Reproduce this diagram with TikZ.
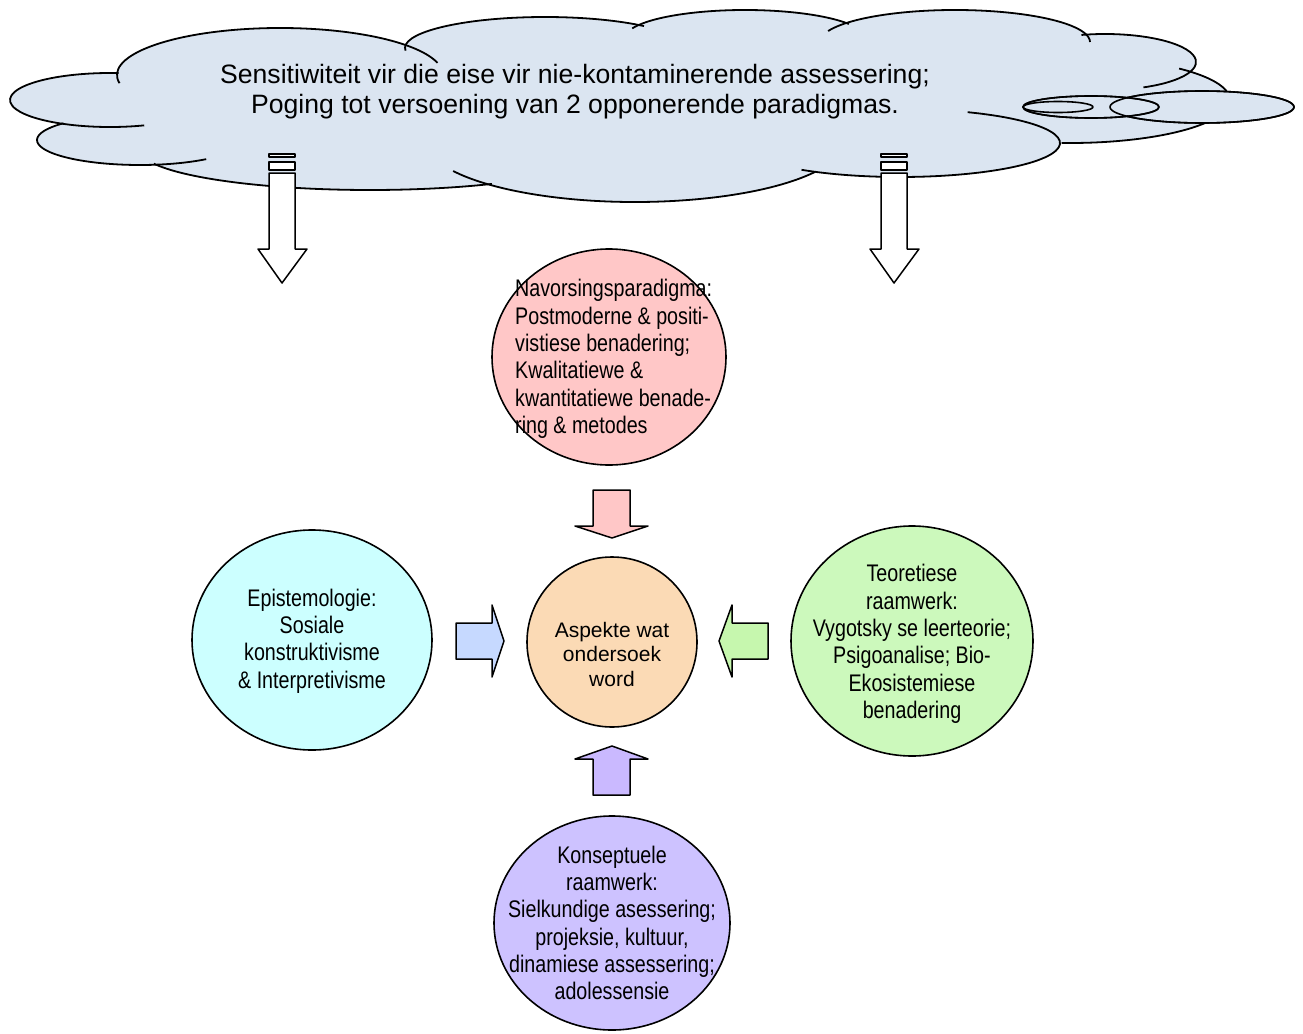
\documentclass[tikz,border=0pt]{standalone}
\usepackage{fontspec}
\setmainfont{Liberation Sans}
\newfontfamily\narrowsans[FakeStretch=0.82]{Liberation Sans}
\usetikzlibrary{shapes.geometric}
\begin{document}
\begin{tikzpicture}[x=1pt,y=-1pt,line join=round]
\definecolor{cloudfill}{HTML}{DBE5F1}
\definecolor{pinkfill}{HTML}{FFC7C7}
\definecolor{peachfill}{HTML}{FBDAB5}
\definecolor{cyanfill}{HTML}{CCFFFF}
\definecolor{greenfill}{HTML}{CCF9BC}
\definecolor{purplefill}{HTML}{CDC2FF}
\definecolor{bluearrow}{HTML}{C6D9FF}
\definecolor{greenarrow}{HTML}{C6F7AE}
\definecolor{purplearrow}{HTML}{CAB9FF}
\tikzset{
  outline/.style={draw=black,line width=1.6pt},
  bubble/.style={ellipse,outline,inner sep=0pt},
  circtext/.style={font=\narrowsans\fontsize{24}{27.3}\selectfont,align=center,inner sep=0pt},
  midtext/.style={font=\fontsize{21}{24.5}\selectfont,align=center,inner sep=0pt},
  blockarrow/.style={draw=black,line width=1.5pt},
}
\useasboundingbox (0,0) rectangle (1303,1033);

% ---- cloud: lobes given as centre x / centre y / x radius / y radius / start / end angle
\def\lobes{110/100/100/27/70/275, 280/75/163/47/170/345, 545/48/140/31/175/315,
  745/38/120/28/200/330, 955/42/135/32/200/360, 1105/62/91/28/255/425,
  1070/100/160/43/313/453, 900/143/160/34/295/488, 635/140/210/62/31/150,
  370/150/230/40/58/160, 140/140/103/25/50/222}
\fill[cloudfill] ({110+100*cos(70)},{100+27*sin(70)})
  \foreach \cx/\cy/\rx/\ry/\a/\b in \lobes {
    -- ({\cx+\rx*cos(\a)},{\cy+\ry*sin(\a)})
    arc[start angle=\a,end angle=\b,x radius=\rx,y radius=\ry]
  } -- cycle;
\foreach \cx/\cy/\rx/\ry/\a/\b in \lobes {
  \draw[line width=1.8pt] ({\cx+\rx*cos(\a)},{\cy+\ry*sin(\a)})
    arc[start angle=\a,end angle=\b,x radius=\rx,y radius=\ry];
}

% thought bubbles on the right of the cloud
\node[bubble,fill=cloudfill,minimum width=184pt,minimum height=32pt] (bub3) at (1202,107) {};
\node[bubble,fill=cloudfill,minimum width=136pt,minimum height=22pt] (bub2) at (1091,107) {};
\node[bubble,fill=cloudfill,minimum width=70pt,minimum height=11pt] (bub1) at (1058,107) {};
\draw[outline] (bub3.center) ellipse[x radius=92,y radius=16];
\draw[outline] (bub2.center) ellipse[x radius=68,y radius=11];

\node[font=\fontsize{26.6}{30}\selectfont,align=center,inner sep=0pt] (cloudtext) at (575,92)
  {Sensitiwiteit vir die eise vir nie-kontaminerende assessering;\\
   Poging tot versoening van 2 opponerende paradigmas.};

% ---- striped white arrows leaving the cloud
\foreach \ax/\nm in {282/left,894/right}{
  \begin{scope}[shift={(\ax,0)}]
    \draw[blockarrow,fill=white] (-13,154) rectangle (13,157);
    \draw[blockarrow,fill=white] (-13,162) rectangle (13,170);
    \draw[blockarrow,fill=white] (-13,173) -- (13,173) -- (13,249) -- (25,249)
      -- (0,283) -- (-24,249) -- (-13,249) -- cycle;
    \coordinate (tip\nm) at (0,283);
  \end{scope}
}

% ---- the five ellipses
\node[ellipse,outline,fill=pinkfill,minimum width=234pt,minimum height=216pt] (navors) at (609,357) {};
\node[ellipse,outline,fill=cyanfill,minimum width=240pt,minimum height=220pt] (episte) at (312,640) {};
\node[ellipse,outline,fill=greenfill,minimum width=242pt,minimum height=230pt] (teoret) at (912,641) {};
\node[ellipse,outline,fill=purplefill,minimum width=236pt,minimum height=214pt] (konsep) at (612,923) {};
\node[circle,outline,fill=peachfill,minimum size=170pt] (aspek) at (612,642) {};

% ---- block arrows pointing to the centre
\draw[blockarrow,fill=pinkfill] (593,490) -- (630,490) -- (630,526) -- (648,526)
  -- (612,538) -- (575,526) -- (593,526) -- cycle;
\draw[blockarrow,fill=bluearrow] (456,623) -- (492,623) -- (492,605) -- (504,641)
  -- (492,677) -- (492,659) -- (456,659) -- cycle;
\draw[blockarrow,fill=greenarrow] (768,623) -- (732,623) -- (732,605) -- (719,641)
  -- (732,677) -- (732,659) -- (768,659) -- cycle;
\draw[blockarrow,fill=purplearrow] (593,795) -- (630,795) -- (630,759) -- (648,759)
  -- (612,746) -- (575,759) -- (593,759) -- cycle;

% ---- texts
\node[circtext,align=left,anchor=west] (tnavors) at (515,359)
  {Navorsingsparadigma:\\Postmoderne \& positi-\\vistiese benadering;\\Kwalitatiewe \&\\kwantitatiewe benade-\\ring \& metodes};
\node[circtext] (tepiste) at (312,641)
  {Epistemologie:\\Sosiale\\konstruktivisme\\\& Interpretivisme};
\node[circtext] (tteoret) at (912,644)
  {Teoretiese\\raamwerk:\\Vygotsky se leerteorie;\\Psigoanalise; Bio-\\Ekosistemiese\\benadering};
\node[circtext] (tkonsep) at (612,923)
  {Konseptuele\\raamwerk:\\Sielkundige asessering;\\projeksie, kultuur,\\dinamiese assessering;\\adolessensie};
\node[midtext] (taspek) at (612,654) {Aspekte wat\\ondersoek\\word};
\end{tikzpicture}
\end{document}
